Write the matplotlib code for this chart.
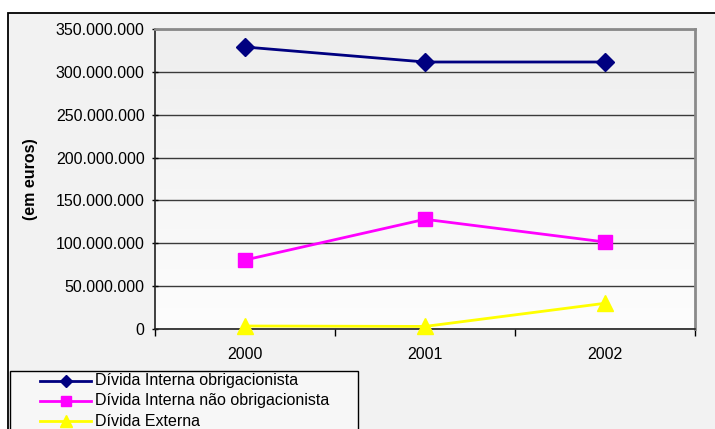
import matplotlib
matplotlib.use("Agg")
import matplotlib.pyplot as plt
import numpy as np
from matplotlib.patches import Rectangle
from matplotlib.ticker import FuncFormatter
from matplotlib.colors import LinearSegmentedColormap
from matplotlib.lines import Line2D

years = ["2000", "2001", "2002"]
interna_obrig = [329_000_000, 311_500_000, 311_500_000]
interna_nao_obrig = [80_500_000, 128_000_000, 101_500_000]
externa = [3_500_000, 3_000_000, 30_000_000]
series_names = ["Dívida Interna obrigacionista",
                "Dívida Interna não obrigacionista",
                "Dívida Externa"]

plt.rcParams['font.family'] = ['Liberation Sans', 'DejaVu Sans']
FS = 11.5

W, H = 715, 429
fig = plt.figure(figsize=(W / 100, H / 100), dpi=100, facecolor='white')

def fx(px):
    return px / W

def fy(py):
    return 1 - py / H

# outer chart frame
fig.patches.append(Rectangle((fx(8), fy(432)), fx(720) - fx(8), fy(13) - fy(432),
                             transform=fig.transFigure, facecolor='#F2F2F2',
                             edgecolor='black', linewidth=1.3, zorder=-5))

ax = fig.add_axes([fx(155), fy(329), fx(695) - fx(155), fy(29) - fy(329)])
ax.set_zorder(2)
ax.set_facecolor('none')

x = np.arange(len(years))
ax.set_xlim(-0.5, 2.5)
ax.set_ylim(0, 350_000_000)

# gradient background
grad = np.linspace(0, 1, 256).reshape(-1, 1)
cmap = LinearSegmentedColormap.from_list('g', ['#FDFDFD', '#EEEEEE'])
ax.imshow(grad, extent=(-0.5, 2.5, 0, 350_000_000), origin='lower',
          aspect='auto', cmap=cmap, zorder=0)

ax.set_yticks(np.arange(0, 350_000_001, 50_000_000))
ax.yaxis.set_major_formatter(FuncFormatter(lambda v, p: f"{int(v):,}".replace(",", ".")))
ax.grid(axis='y', color='#3a3a3a', linewidth=1.0, zorder=1)
ax.set_axisbelow(True)

ax.set_xticks(x)
ax.set_xticklabels(years)
ax.set_xticks([-0.5, 0.5, 1.5, 2.5], minor=True)
ax.tick_params(axis='x', which='major', length=0, pad=13, labelsize=FS)
ax.tick_params(axis='x', which='minor', length=5, width=1, direction='out', color='black')
ax.tick_params(axis='y', length=5, width=1, direction='inout', labelsize=FS, pad=5)

for s in ['top', 'right']:
    ax.spines[s].set_color('#8a8a8a')
    ax.spines[s].set_linewidth(2)
for s in ['left', 'bottom']:
    ax.spines[s].set_color('#222222')
    ax.spines[s].set_linewidth(1.2)

l1, = ax.plot(x, interna_obrig, color='#000080', marker='D', markersize=9, linewidth=2, zorder=3, clip_on=False)
l2, = ax.plot(x, interna_nao_obrig, color='#FF00FF', marker='s', markersize=10, linewidth=2, zorder=3, clip_on=False)
l3, = ax.plot(x, externa, color='#FFFF00', marker='^', markersize=11, linewidth=2, zorder=3, clip_on=False)

fig.text(fx(31), fy(179), "(em euros)", rotation=90, fontsize=FS, fontweight='bold',
         ha='center', va='center')

# legend box
fig.patches.append(Rectangle((fx(10), fy(432)), fx(358) - fx(10), fy(371) - fy(432),
                             transform=fig.transFigure, facecolor='#F7F7F7',
                             edgecolor='black', linewidth=1.0, zorder=-4))

rows = [381, 401, 421]
for (ln, name, mk, ms), ry in zip([(l1, series_names[0], 'D', 6.5),
                                   (l2, series_names[1], 's', 7.5),
                                   (l3, series_names[2], '^', 8)], rows):
    fig.lines.append(Line2D([fx(40), fx(91)], [fy(ry), fy(ry)], transform=fig.transFigure,
                            color=ln.get_color(), linewidth=2, zorder=-3))
    fig.lines.append(Line2D([fx(65.5)], [fy(ry)], transform=fig.transFigure,
                            color=ln.get_color(), marker=mk, markersize=ms, linestyle='none', zorder=-2))
    fig.text(fx(95), fy(ry), name, fontsize=FS, ha='left', va='center', zorder=4)

fig.savefig("out.png", dpi=100, facecolor='white')
